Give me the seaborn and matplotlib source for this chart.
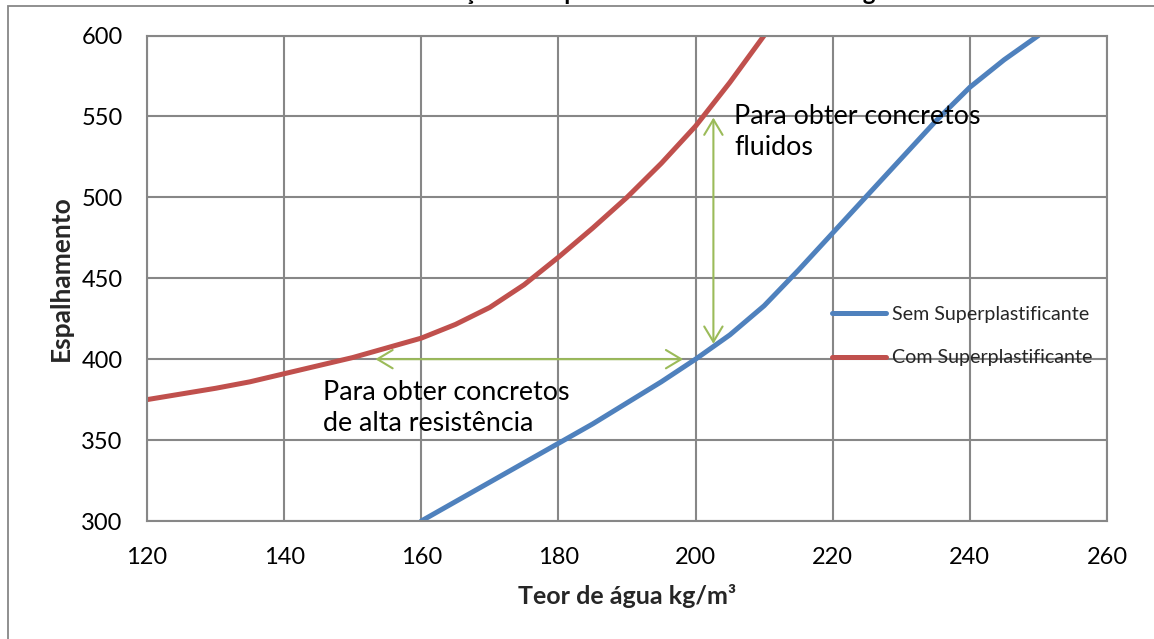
import numpy as np
import pandas as pd
import matplotlib
matplotlib.use("Agg")
import matplotlib.pyplot as plt
import seaborn as sns
from matplotlib.patches import Rectangle

# ---------------- data ----------------
series_names = ["Sem Superplastificante", "Com Superplastificante"]
water_sem = [160, 165, 170, 175, 180, 185, 190, 195, 200, 205, 210, 215, 220, 225,
             230, 235, 240, 245, 250]
spread_sem = [300, 312, 324, 336, 348, 360, 373, 386, 400, 415, 433, 455, 478, 501,
              524, 547, 568, 585, 600]
water_com = [120, 125, 130, 135, 140, 145, 150, 155, 160, 165, 170, 175, 180, 185,
             190, 195, 200, 205, 210]
spread_com = [375, 378.5, 382, 386, 391, 396, 401, 407, 413, 421.5, 432, 446, 463, 481,
              500, 521, 544, 571, 600]

x_ticks = [120, 140, 160, 180, 200, 220, 240, 260]
y_ticks = [300, 350, 400, 450, 500, 550, 600]
x_label = "Teor de água kg/m³"
y_label = "Espalhamento"
title_text = "Variação do espalhamento com o teor de água"

note_fluid = "Para obter concretos\nfluidos"
note_strength = "Para obter concretos\nde alta resistência"
arrow_h = [(153.3, 400), (198.2, 400)]
arrow_v = [(202.6, 549.3), (202.6, 409.5)]
note_fluid_xy = (205.6, 526.0)
note_strength_xy = (145.7, 355.6)

blue = "#4F81BD"
red = "#C0504D"
green = "#9BBB59"
grid_gray = "#878787"

df = pd.concat([
    pd.DataFrame({"agua": water_sem, "esp": spread_sem, "serie": series_names[0]}),
    pd.DataFrame({"agua": water_com, "esp": spread_com, "serie": series_names[1]}),
])

sns.set_theme(style="white")
plt.rcParams["font.family"] = ["Lato", "DejaVu Sans"]

W, H = 1154, 639
fig = plt.figure(figsize=(W / 100, H / 100), dpi=100)
ax = fig.add_axes([147 / W, 1 - 521 / H, (1107 - 147) / W, (521 - 35.5) / H])

sns.lineplot(data=df, x="agua", y="esp", hue="serie", palette=[blue, red],
             hue_order=series_names, linewidth=3.6, ax=ax, sort=True,
             estimator=None, solid_capstyle="round", solid_joinstyle="round")

ax.set_xlim(120, 260)
ax.set_ylim(300, 600)
ax.set_xticks(x_ticks)
ax.set_yticks(y_ticks)
ax.grid(True, color=grid_gray, linewidth=1.5)
ax.set_axisbelow(True)
for s in ax.spines.values():
    s.set_color(grid_gray)
    s.set_linewidth(1.5)
ax.tick_params(axis="both", which="major", direction="out", length=6.5, width=1.5,
               color=grid_gray, labelsize=17, labelcolor="black")
ax.tick_params(axis="y", pad=11)
ax.tick_params(axis="x", pad=12)

ax.set_xlabel(x_label, fontsize=18, fontweight="bold", labelpad=12)
ax.set_ylabel(y_label, fontsize=19, fontweight="bold", labelpad=6)

# arrows
ap = dict(arrowstyle="<->,head_length=0.55,head_width=0.33", color=green, lw=1.5,
          shrinkA=0, shrinkB=0, mutation_scale=20)
ax.annotate("", xy=arrow_h[1], xytext=arrow_h[0], arrowprops=ap)
ax.annotate("", xy=arrow_v[1], xytext=arrow_v[0], arrowprops=ap)

ax.text(*note_fluid_xy, note_fluid, fontsize=19.3, va="baseline", ha="left",
        linespacing=1.3, color="black")
ax.text(*note_strength_xy, note_strength, fontsize=19.3, va="baseline", ha="left",
        linespacing=1.3, color="black")

leg = ax.legend(loc="center left", bbox_to_anchor=(832 / W, 1 - 336 / H),
                bbox_transform=fig.transFigure, frameon=False, fontsize=14.1,
                handlelength=2.75, handletextpad=0.3, labelspacing=1.37,
                borderpad=0, borderaxespad=0, title=None)

# outer chart frame (cropped)
frame = Rectangle((8 / W, -0.2), 1.5, 1.2 - 5.5 / H, transform=fig.transFigure,
                  fill=False, edgecolor=grid_gray, linewidth=1.3, clip_on=False)
fig.patches.append(frame)

# title, cropped at the top of the picture
fig.text(655 / W, 1.0, title_text, ha="center", va="baseline", fontsize=17.3,
         fontweight="bold", color="black")

fig.savefig("out.png", dpi=100)
